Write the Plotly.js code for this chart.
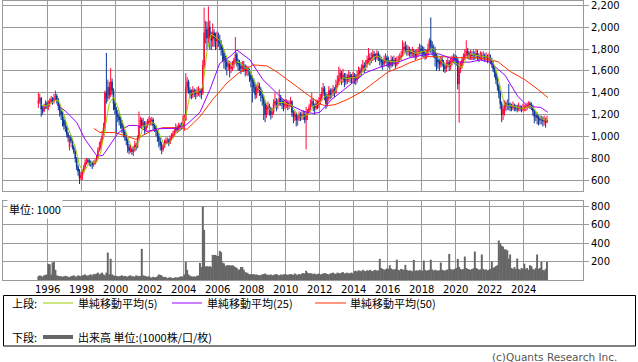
<!DOCTYPE html>
<html>
<head>
<meta charset="utf-8">
<script src="https://cdn.plot.ly/plotly-3.0.1.min.js"></script>
<style>html,body{margin:0;padding:0;background:#fff;}#chart{width:638px;height:362px;}</style>
</head>
<body>
<div id="chart"></div>
<script>
// ---- Data (monthly candles, first month = 1995-06) ----
const firstMonth = [1995, 6];
const openP = [
1300,1330,1350,1250,1230,1270,1300,
1280,1300,1320,1340,1320,1350,1370,1340,1280,1230,1200,1150,
1100,1080,1020,900,1000,960,900,860,800,720,680,620,
640,680,720,760,780,770,760,760,740,750,770,800,
870,900,950,1000,1080,1400,1350,1450,1380,1500,1420,1300,
1250,1200,1180,1150,1120,1080,1040,1000,960,900,870,880,
860,880,920,900,980,1100,1150,1100,1130,1060,1100,1120,
1140,1140,1150,1100,1080,1050,1000,960,920,880,900,940,
960,960,940,980,1000,1020,1050,1080,1060,1100,1080,1100,
1120,1150,1450,1500,1420,1400,1380,1420,1400,1390,1410,1420,
1400,1400,1650,1950,1980,1900,2000,1920,1880,1950,1900,1870,
1900,1880,1850,1800,1760,1700,1680,1640,1660,1620,1640,1650,
1700,1750,1680,1660,1640,1620,1650,1640,1600,1620,1600,1560,
1520,1500,1450,1380,1420,1460,1430,1380,1350,1300,1200,1250,
1280,1250,1200,1220,1300,1320,1280,1300,1350,1320,1300,1280,
1300,1310,1280,1300,1320,1220,1180,1200,1150,1170,1200,1180,
1200,1200,1150,1200,1220,1260,1300,1320,1280,1260,1300,1290,
1320,1350,1400,1440,1380,1300,1350,1420,1380,1400,1430,1400,
1470,1500,1540,1580,1520,1560,1500,1540,1520,1560,1540,1530,
1550,1540,1520,1560,1600,1580,1620,1650,1630,1660,1700,1720,
1700,1720,1750,1740,1720,1760,1730,1700,1680,1660,1700,1720,
1690,1680,1650,1700,1680,1700,1660,1690,1700,1720,1740,1800,
1820,1800,1780,1790,1770,1760,1780,1760,1740,1760,1780,1800,
1790,1780,1760,1740,1750,1800,1880,1820,1800,1780,1720,1700,
1680,1660,1700,1680,1640,1620,1660,1680,1640,1680,1700,1720,
1700,1700,1480,1620,1640,1700,1720,1750,1780,1760,1740,1750,
1740,1750,1740,1760,1730,1720,1740,1730,1740,1720,1730,1710,
1720,1700,1660,1620,1580,1520,1460,1400,1300,1200,1250,1300,
1280,1300,1280,1270,1260,1280,1270,1260,1250,1270,1260,1250,
1260,1260,1270,1280,1300,1290,1270,1230,1180,1200,1170,1160,
1150,1160,1140,1150,1130];
const highP = [
1400,1390,1360,1280,1300,1330,1320,
1330,1350,1370,1360,1390,1420,1390,1350,1300,1260,1230,1180,
1150,1100,1040,1010,1010,980,920,880,810,740,700,670,
700,740,790,800,800,790,780,770,780,790,830,900,
950,980,1050,1125,1420,1764,1520,1500,1627,1530,1440,1330,
1270,1240,1210,1180,1150,1110,1060,1020,980,930,920,900,
910,960,940,1010,1227,1180,1170,1170,1140,1140,1160,1180,
1170,1180,1170,1120,1100,1070,1030,990,950,930,970,990,
990,980,1010,1030,1050,1080,1120,1100,1125,1120,1130,1190,
1200,1580,1545,1520,1450,1430,1460,1440,1430,1450,1460,1440,
1440,1700,2180,2060,2050,2190,2060,1960,2035,1980,1950,1960,
1950,1930,1880,1840,1790,1740,1720,1700,1690,1680,1690,1720,
1910,1770,1710,1700,1680,1690,1690,1660,1650,1640,1620,1580,
1560,1530,1480,1470,1500,1490,1450,1420,1380,1330,1290,1320,
1300,1270,1260,1340,1400,1350,1340,1430,1380,1350,1330,1340,
1340,1330,1330,1360,1330,1240,1230,1220,1200,1230,1220,1230,
1240,1230,1270,1250,1290,1340,1400,1350,1300,1340,1330,1360,
1390,1450,1490,1460,1400,1390,1460,1440,1440,1470,1450,1520,
1560,1640,1620,1600,1620,1580,1580,1570,1600,1590,1570,1590,
1580,1570,1600,1640,1630,1660,1700,1680,1700,1740,1810,1760,
1770,1790,1780,1760,1790,1780,1750,1730,1710,1740,1760,1740,
1730,1700,1740,1730,1740,1720,1730,1740,1760,1780,1880,1860,
1870,1840,1830,1820,1800,1820,1800,1790,1800,1820,1850,1840,
1830,1820,1800,1790,1850,1900,2090,1870,1840,1820,1760,1740,
1710,1730,1730,1700,1670,1700,1720,1700,1720,1740,1760,1750,
1740,1720,1680,1690,1730,1760,1800,1880,1810,1780,1790,1780,
1790,1780,1800,1790,1760,1780,1770,1780,1760,1770,1750,1760,
1750,1720,1690,1650,1600,1550,1480,1420,1320,1280,1330,1320,
1340,1480,1310,1300,1320,1300,1290,1290,1310,1290,1280,1300,
1290,1300,1310,1320,1320,1310,1290,1250,1230,1220,1200,1190,
1190,1180,1190,1170,1190];
const lowP = [
1260,1300,1180,1200,1220,1250,1250,
1240,1270,1300,1290,1300,1330,1300,1240,1180,1150,1090,1060,
1040,990,950,870,940,880,840,760,690,640,563,600,
600,660,700,740,750,730,720,700,720,740,760,790,
860,880,940,980,1050,1300,1320,1340,1360,1380,1240,1200,
1020,1130,1100,1070,1030,990,960,920,850,836,850,830,
820,860,870,890,970,1080,1070,1080,1020,1040,1080,1100,
1100,1100,1060,1040,1000,950,900,870,836,860,900,930,
930,910,930,960,980,1000,1030,1030,1040,1050,1060,1080,
1050,1140,1400,1390,1350,1340,1350,1360,1340,1360,1370,1360,
1340,1380,1620,1850,1800,1850,1800,1790,1820,1820,1790,1800,
1820,1790,1740,1690,1620,1610,1560,1600,1540,1580,1600,1620,
1660,1640,1600,1600,1570,1590,1590,1550,1560,1550,1500,1450,
1310,1400,1340,1350,1400,1370,1320,1280,1150,1130,1170,1200,
1190,1155,1170,1200,1270,1230,1250,1280,1280,1250,1230,1250,
1260,1240,1250,1270,1180,1120,1140,1090,1100,1140,1140,1150,
1150,1120,880,1150,1200,1230,1270,1230,1200,1240,1250,1260,
1290,1320,1370,1330,1250,1270,1320,1340,1350,1370,1360,1390,
1440,1470,1500,1470,1490,1450,1470,1480,1500,1490,1480,1490,
1480,1470,1490,1530,1540,1560,1590,1580,1600,1630,1660,1650,
1670,1690,1700,1680,1700,1690,1650,1630,1610,1640,1670,1640,
1630,1610,1630,1640,1650,1620,1640,1660,1680,1700,1730,1760,
1760,1740,1740,1730,1720,1730,1720,1700,1710,1730,1750,1750,
1730,1720,1700,1710,1730,1770,1760,1740,1720,1640,1600,1620,
1600,1630,1640,1590,1580,1590,1630,1600,1610,1650,1670,1660,
1650,1430,1125,1580,1620,1670,1700,1730,1710,1700,1700,1700,
1700,1700,1710,1690,1680,1700,1690,1700,1680,1690,1670,1680,
1660,1630,1590,1540,1480,1420,1350,1250,1130,1150,1190,1230,
1240,1240,1230,1230,1240,1230,1230,1220,1230,1230,1220,1230,
1230,1230,1240,1260,1250,1240,1190,1120,1140,1110,1100,1110,
1110,1090,1100,1080,1120];
const closeP = [
1330,1350,1250,1230,1270,1300,1280,
1300,1320,1340,1320,1350,1370,1340,1280,1230,1200,1150,1100,
1080,1020,990,1000,960,900,860,800,720,680,620,640,
680,720,760,780,770,760,760,740,750,770,800,870,
900,950,1000,1080,1400,1350,1450,1380,1500,1420,1300,1250,
1200,1180,1150,1120,1080,1040,1000,960,900,870,880,860,
880,920,900,980,1100,1150,1100,1130,1060,1100,1120,1140,
1140,1150,1100,1080,1050,1000,960,920,880,900,940,960,
960,940,980,1000,1020,1050,1080,1060,1100,1080,1100,1120,
1150,1450,1500,1420,1400,1380,1420,1400,1390,1410,1420,1400,
1400,1650,1950,1980,1900,2000,1920,1880,1950,1900,1870,1900,
1880,1850,1800,1760,1700,1680,1640,1660,1620,1640,1650,1700,
1750,1680,1660,1640,1620,1650,1640,1600,1620,1600,1560,1520,
1500,1450,1380,1420,1460,1430,1380,1350,1300,1200,1250,1280,
1250,1200,1220,1300,1320,1280,1300,1350,1320,1300,1280,1300,
1310,1280,1300,1320,1220,1180,1200,1150,1170,1200,1180,1200,
1200,1150,1200,1220,1260,1300,1320,1280,1260,1300,1290,1320,
1350,1400,1440,1380,1300,1350,1420,1380,1400,1430,1400,1470,
1500,1540,1580,1520,1560,1500,1540,1520,1560,1540,1530,1550,
1540,1520,1560,1600,1580,1620,1650,1630,1660,1700,1720,1700,
1720,1750,1740,1720,1760,1730,1700,1680,1660,1700,1720,1690,
1680,1650,1700,1680,1700,1660,1690,1700,1720,1740,1800,1820,
1800,1780,1790,1770,1760,1780,1760,1740,1760,1780,1800,1790,
1780,1760,1740,1750,1800,1880,1820,1800,1780,1720,1700,1680,
1660,1700,1680,1640,1620,1660,1680,1640,1680,1700,1720,1700,
1700,1480,1620,1640,1700,1720,1750,1780,1760,1740,1750,1740,
1750,1740,1760,1730,1720,1740,1730,1740,1720,1730,1710,1720,
1700,1660,1620,1580,1520,1460,1400,1300,1200,1250,1300,1280,
1300,1280,1270,1260,1280,1270,1260,1250,1270,1260,1250,1260,
1260,1270,1280,1300,1290,1270,1230,1180,1200,1170,1160,1150,
1160,1140,1150,1130,1150];
const volume = [
40,50,45,35,50,55,60,
175,170,60,190,195,110,50,45,40,40,35,40,
45,40,35,30,40,45,50,40,35,50,45,40,
50,55,60,50,45,55,60,50,65,60,70,80,
60,70,80,60,50,80,297,60,230,60,50,45,
45,40,40,45,50,40,45,40,35,45,50,40,
40,35,50,45,40,45,337,50,45,40,35,40,
30,25,35,30,30,40,60,55,50,30,35,30,
20,25,30,25,20,25,30,25,30,35,40,35,
60,195,110,60,45,40,35,40,35,45,50,185,
140,795,542,146,150,145,150,140,272,270,272,260,
260,315,300,190,180,150,160,160,160,155,160,150,
140,130,110,115,140,140,110,85,80,70,60,65,
60,65,55,60,55,50,55,60,65,70,60,55,
55,60,50,55,60,65,55,50,60,55,60,65,
60,55,60,65,60,55,70,60,55,65,60,70,
75,70,100,80,70,75,70,65,70,60,65,70,
60,65,70,75,70,65,60,70,75,80,70,65,
80,75,70,80,85,70,75,80,70,75,80,70,
95,100,90,105,100,95,110,100,95,105,100,110,
100,95,105,110,100,105,229,130,120,110,115,125,
120,160,125,115,110,120,220,110,105,120,115,110,
164,110,100,105,100,95,218,100,105,100,110,105,
100,210,110,100,105,110,220,115,100,110,105,100,
105,189,110,105,100,110,115,283,120,110,115,120,
130,229,140,120,110,120,254,130,120,115,110,120,
125,308,130,120,110,115,276,120,110,115,105,110,
120,200,130,140,150,160,427,400,370,360,333,330,
320,230,276,130,120,140,120,232,120,110,130,120,
176,120,130,110,160,150,120,110,130,276,120,130,
195,110,100,120,195];

// 5-period SMA, one value per quarter starting 1995-08
const ma5Start = [1995, 8];
const ma5 = [
1290,1280,
1294,1326,1332,1240, 1110,1010,904,736, 668,742,762,764, 858,1066,1300,1360,
1270,1146,1040,922, 882,956,1092,1102, 1130,1104,1002,920, 940,980,1042,1084,
1180,1384,1404,1408, 1456,1776,1936,1904, 1880,1798,1688,1642, 1684,1670,1630,1604,
1526,1442,1408,1296, 1236,1258,1310,1310, 1294,1286,1214,1180, 1186,1206,1276,1290,
1332,1374,1366,1406, 1468,1540,1528,1538, 1536,1560,1616,1672, 1718,1738,1718,1692,
1688,1682,1686,1730, 1788,1780,1762,1768, 1782,1766,1810,1764, 1692,1660,1648,1684,
1660,1628,1718,1756, 1744,1740,1732,1726, 1704,1616,1452,1290, 1282,1278,1264,1258,
1260,1280,1254,1188, 1156,1146];

// 25-period SMA
const ma25Dates = ['1996-07-15','1996-09-20','1997-02-15','1997-09-20','1998-03-10','1998-06-28','1998-11-25','1999-04-01','1999-08-28','2000-02-20','2000-07-20','2000-10-15','2001-04-01','2001-11-01','2002-08-01','2003-10-10','2004-03-10','2004-12-15','2005-07-20','2006-02-15','2006-09-20','2007-02-20','2007-11-25','2008-08-28','2009-04-01','2009-11-01','2010-06-05','2011-01-10','2011-08-10','2012-01-01','2012-09-20','2013-08-28','2014-08-28','2015-08-28','2016-08-08','2017-04-20','2018-02-01','2018-11-25','2019-08-28','2020-04-01','2020-11-01','2021-06-05','2022-01-01','2022-11-25','2023-08-28','2024-04-01','2025-01-01','2025-06-05'];
const ma25 = [1290,1273,1220,1125,975,910,820,825,920,1030,1080,1100,1100,1045,1070,1075,1110,1220,1430,1670,1730,1790,1700,1520,1430,1340,1275,1230,1210,1220,1340,1455,1580,1640,1680,1720,1745,1760,1720,1680,1680,1700,1680,1560,1365,1275,1265,1220];

// 50-period SMA
const ma50Dates = ['1998-09-20','1999-01-30','1999-12-15','2000-08-28','2001-03-10','2002-01-10','2002-10-10','2003-10-10','2004-03-10','2004-12-15','2005-09-20','2006-07-20','2007-04-25','2008-02-01','2008-11-25','2009-06-28','2010-02-01','2010-11-01','2011-08-10','2012-01-01','2012-04-20','2012-11-25','2013-08-28','2014-06-28','2015-04-01','2016-01-10','2016-11-01','2017-04-20','2018-04-20','2019-04-01','2020-04-01','2021-04-01','2022-01-01','2022-06-25','2023-04-01','2024-01-25','2024-11-01','2025-06-05'];
const ma50 = [1073,1035,1035,1000,973,1045,1080,1080,1064,1180,1340,1490,1590,1655,1645,1590,1520,1430,1340,1300,1280,1290,1340,1410,1500,1590,1640,1675,1730,1730,1720,1720,1700,1685,1590,1520,1430,1355];

// Axis ticks
const yearTickVals = ['1996-01-01','1998-01-01','2000-01-01','2002-01-01','2004-01-01','2006-01-01','2008-01-01','2010-01-01','2012-01-01','2014-01-01','2016-01-01','2018-01-01','2020-01-01','2022-01-01','2024-01-01'];
const yearTickText = ['1996','1998','2000','2002','2004','2006','2008','2010','2012','2014','2016','2018','2020','2022','2024'];
const priceTicks = [600,800,1000,1200,1400,1600,1800,2000,2200];
const volTicks = [200,400,600,800];

// ---- build ----
function monthSeries(start, n, step) {
  const out = [];
  let y = start[0], m = start[1];
  for (let i = 0; i < n; i++) {
    out.push(y + '-' + String(m).padStart(2, '0') + '-15');
    m += step; while (m > 12) { m -= 12; y++; }
  }
  return out;
}
const dates = monthSeries(firstMonth, closeP.length, 1);
const ma5Dates = monthSeries(ma5Start, ma5.length, 3);

const RED = '#ff0a3c', BLUE = '#0a3796', GRID = '#9a9a9a';
const JP = 'Noto Sans CJK JP, sans-serif';
const NUM = 'DejaVu Sans, sans-serif';

const traces = [
  {type:'candlestick', x:dates, open:openP, high:highP, low:lowP, close:closeP,
   xaxis:'x', yaxis:'y', whiskerwidth:0, hoverinfo:'skip', showlegend:false,
   increasing:{line:{color:RED, width:1}, fillcolor:RED},
   decreasing:{line:{color:BLUE, width:1}, fillcolor:BLUE}},
  {type:'scatter', mode:'lines', x:ma50Dates, y:ma50, xaxis:'x', yaxis:'y',
   line:{color:'#ff3300', width:1}, hoverinfo:'skip', showlegend:false},
  {type:'scatter', mode:'lines', x:ma25Dates, y:ma25, xaxis:'x', yaxis:'y',
   line:{color:'#9900ff', width:1}, hoverinfo:'skip', showlegend:false},
  {type:'scatter', mode:'lines', x:ma5Dates, y:ma5, xaxis:'x', yaxis:'y',
   line:{color:'#99cc00', width:1}, hoverinfo:'skip', showlegend:false},
  {type:'bar', x:dates, y:volume, xaxis:'x2', yaxis:'y2',
   marker:{color:'#666666', line:{width:0}}, width:42*86400000,
   hoverinfo:'skip', showlegend:false}
];

// pixel -> paper helpers (plot area x 3..583, y 1..280)
const PX = x => (x - 3) / 580;
const PY = y => (280 - y) / 279;

const xCommon = {
  type:'date', range:['1993-05-16','2027-06-28'],
  tickmode:'array', tickvals:yearTickVals, ticktext:yearTickText,
  showgrid:true, gridcolor:GRID, gridwidth:1,
  showline:true, linecolor:GRID, linewidth:1, mirror:true,
  zeroline:false, ticks:'', fixedrange:true
};
const yCommon = {
  side:'right', ticks:'outside', ticklen:5, tickcolor:GRID, tickwidth:1,
  showgrid:true, gridcolor:GRID, gridwidth:1,
  showline:true, linecolor:GRID, linewidth:1, mirror:true,
  zeroline:false, tickmode:'array', fixedrange:true, ticklabeloverflow:'allow',
  tickfont:{family:NUM, size:10, color:'#000'}
};

const shapes = [
  {type:'rect', xref:'paper', yref:'paper', x0:PX(3.5), x1:PX(635.5), y0:PY(295.5), y1:PY(346),
   line:{color:'#000', width:1}, fillcolor:'rgba(0,0,0,0)'},
  {type:'line', xref:'paper', yref:'paper', x0:PX(43), x1:PX(73), y0:PY(303), y1:PY(303), line:{color:'#99cc00', width:1}},
  {type:'line', xref:'paper', yref:'paper', x0:PX(172), x1:PX(202), y0:PY(303), y1:PY(303), line:{color:'#9900ff', width:1}},
  {type:'line', xref:'paper', yref:'paper', x0:PX(315), x1:PX(346), y0:PY(303), y1:PY(303), line:{color:'#ff3300', width:1}},
  {type:'line', xref:'paper', yref:'paper', x0:PX(43), x1:PX(73), y0:PY(337), y1:PY(337), line:{color:'#666666', width:4}}
];
const ann = (txt, x, y, extra) => Object.assign({
  text:txt, xref:'paper', yref:'paper', x:PX(x), y:PY(y), xanchor:'left', yanchor:'middle',
  showarrow:false, font:{family:JP, size:11, color:'#000'}, borderpad:0
}, extra || {});
const annotations = [
  ann('上段:', 11, 303),
  ann('単純移動平均(5)', 77, 303),
  ann('単純移動平均(25)', 206, 303),
  ann('単純移動平均(50)', 349, 303),
  ann('下段:', 11, 337),
  ann('出来高 単位:(1000株/口/枚)', 77, 337),
  ann('(c)Quants Research Inc.', 618, 357, {xanchor:'right', font:{family:NUM, size:10.5, color:'#555'}}),
  ann('単位: 1000', 7, 209, {bgcolor:'#ffffff', borderpad:1})
];

const layout = {
  width:638, height:362,
  margin:{l:3, r:55, t:1, b:82, pad:0},
  paper_bgcolor:'#fff', plot_bgcolor:'#fff',
  showlegend:false, dragmode:false,
  xaxis:Object.assign({}, xCommon, {anchor:'y', domain:[0,1], showticklabels:false, rangeslider:{visible:false}}),
  xaxis2:Object.assign({}, xCommon, {anchor:'y2', domain:[0,1], matches:'x', showticklabels:true,
     tickfont:{family:NUM, size:10, color:'#000'}}),
  yaxis:Object.assign({}, yCommon, {anchor:'x', domain:[(280-190.5)/279, 1], range:[504, 2240], tickvals:priceTicks, tickformat:',d'}),
  yaxis2:Object.assign({}, yCommon, {anchor:'x2', domain:[0, (280-201)/279], range:[0, 855], tickvals:volTicks}),
  shapes:shapes, annotations:annotations
};

Plotly.newPlot('chart', traces, layout, {staticPlot:true, displayModeBar:false});
</script>
</body>
</html>
